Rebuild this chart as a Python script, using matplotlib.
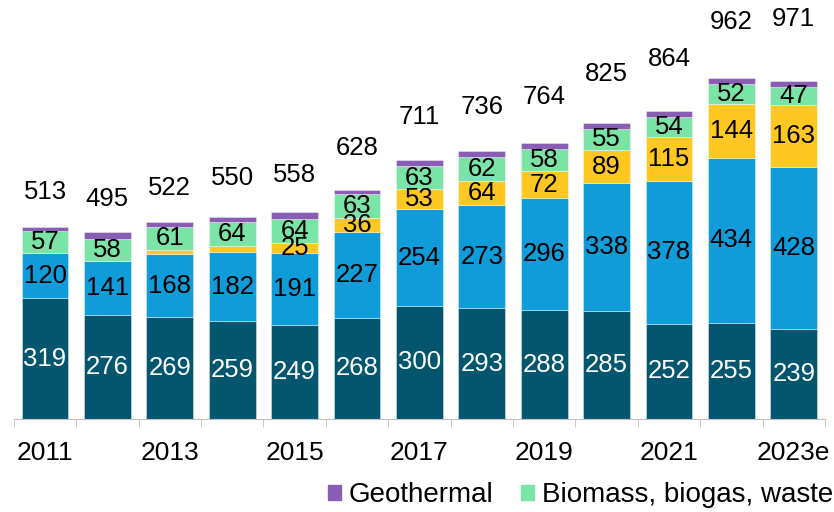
import numpy as np
import matplotlib.pyplot as plt
from matplotlib.patches import Patch

plt.rcParams['font.family'] = ['Liberation Sans', 'DejaVu Sans']

# dados
anos = ['2011', '2012', '2013', '2014', '2015', '2016', '2017',
        '2018', '2019', '2020', '2021', '2022', '2023e']
base = [319, 276, 269, 259, 249, 268, 300, 293, 288, 285, 252, 255, 239]
azul = [120, 141, 168, 182, 191, 227, 254, 273, 296, 338, 378, 434, 428]
solar = [0, 2, 10, 17, 25, 36, 53, 64, 72, 89, 115, 144, 163]
biomassa = [57, 58, 61, 64, 64, 63, 63, 62, 58, 55, 54, 52, 47]
geotermica = [12, 17, 13, 13, 18, 12, 16, 17, 17, 17, 16, 18, 16]
totais = [513, 495, 522, 550, 558, 628, 711, 736, 764, 825, 864, 962, 971]

cores = ['#04566F', '#109CD8', '#FFC722', '#7AE3A6', '#8A5DB5']
series = [base, azul, solar, biomassa, geotermica]
cor_texto = ['white', 'black', 'black', 'black', None]

fig = plt.figure(figsize=(8.34, 5.12), dpi=100)
ax = fig.add_axes([13.8 / 834, 93 / 512, 811.2 / 834, 416 / 512])

x = np.arange(len(anos))
fundo = np.zeros(len(anos))
for valores, cor, ct in zip(series, cores, cor_texto):
    ax.bar(x, valores, width=0.75, bottom=fundo, color=cor,
           edgecolor=(1, 1, 1, 0.45), linewidth=0.6)
    if ct is not None:
        for xi, b, v in zip(x, fundo, valores):
            if v >= 20:
                ax.text(xi, b + v / 2, str(v), ha='center', va='center',
                        fontsize=18.5, color=ct)
    fundo = fundo + np.array(valores)

# totais acima das barras
for xi, t in zip(x, totais):
    ax.text(xi, t + 88, str(t), ha='center', va='center', fontsize=18.5)

ax.set_xlim(-0.5, len(anos) - 0.5)
ax.set_ylim(0, 1100)
ax.set_yticks([])
for lado in ['left', 'right', 'top']:
    ax.spines[lado].set_visible(False)
ax.spines['bottom'].set_color('#BFBFBF')

ax.set_xticks(x[::2])
ax.set_xticklabels(anos[::2], fontsize=19)
ax.set_xticks(np.arange(-0.5, len(anos), 1), minor=True)
ax.tick_params(axis='x', which='major', length=0, pad=16)
ax.tick_params(axis='x', which='minor', length=6, color='#BFBFBF', direction='out')

handles = [Patch(color=cores[4]), Patch(color=cores[3])]
fig.legend(handles, ['Geothermal', 'Biomass, biogas, waste'], ncol=2,
           loc='center left', bbox_to_anchor=(328 / 834, 17 / 512),
           frameon=False, fontsize=20, handlelength=0.45, handleheight=0.45,
           handletextpad=0.3, columnspacing=1.0, borderpad=0, borderaxespad=0)

fig.savefig('out.png', dpi=100)
